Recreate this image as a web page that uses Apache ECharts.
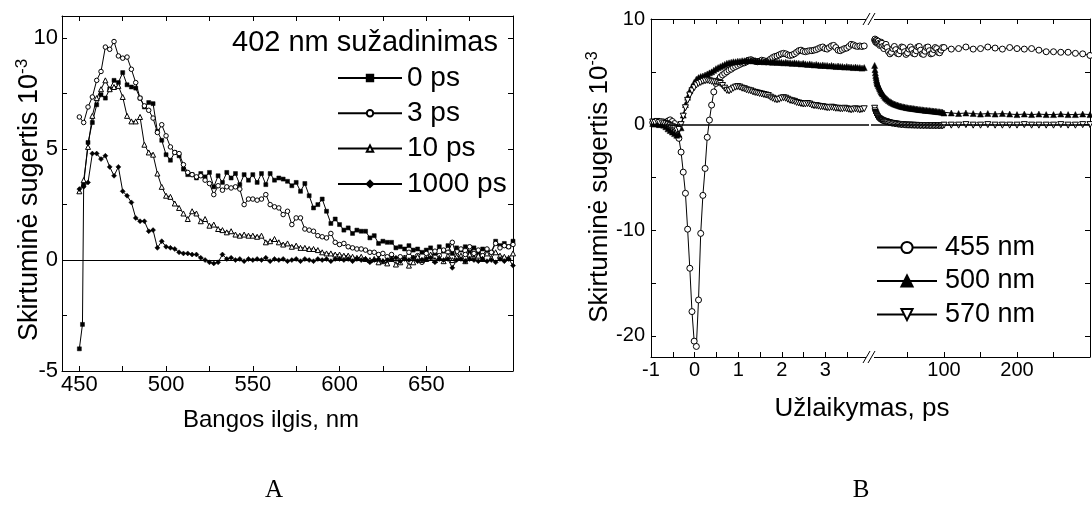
<!DOCTYPE html>
<html><head><meta charset="utf-8">
<script src="https://cdn.jsdelivr.net/npm/echarts@6/dist/echarts.min.js"></script>
<style>html,body{margin:0;padding:0;background:#fff}#c{width:1092px;height:508px}</style>
</head><body><div id="c"></div>
<script>
// ---------- Panel A data ----------
const wavelength = [
 450,452.5,455,457.5,460,462.5,465,467.5,470,472.5,
 475,477.5,480,482.5,485,487.5,490,492.5,495,497.5,
 500,502.5,505,507.5,510,512.5,515,517.5,520,522.5,
 525,527.5,530,532.5,535,537.5,540,542.5,545,547.5,
 550,552.5,555,557.5,560,562.5,565,567.5,570,572.5,
 575,577.5,580,582.5,585,587.5,590,592.5,595,597.5,
 600,602.5,605,607.5,610,612.5,615,617.5,620,622.5,
 625,627.5,630,632.5,635,637.5,640,642.5,645,647.5,
 650,652.5,655,657.5,660,662.5,665,667.5,670,672.5,
 675,677.5,680,682.5,685,687.5,690,692.5,695,697.5,
 700];
const risePoint0ps = [451.8, -2.9];
const abs0ps = [
 -4.0,3.4,5.3,6.2,7.0,7.45,7.3,7.7,8.1,8.0,
 8.45,7.9,7.8,7.75,7.3,6.9,7.1,7.05,5.8,5.4,
 4.75,4.5,4.85,4.7,4.1,3.85,3.85,3.7,3.9,3.75,
 3.95,3.3,3.8,3.5,3.95,3.7,3.9,3.4,3.85,3.6,
 3.85,3.5,3.9,3.4,3.9,3.6,3.7,3.65,3.55,3.35,
 3.5,3.1,3.45,2.9,2.35,2.5,2.75,2.2,1.65,1.85,
 1.6,1.35,1.45,1.2,1.35,1.3,1.3,1.0,1.1,0.75,
 0.85,0.8,0.8,0.55,0.6,0.5,0.65,0.45,0.5,0.35,
 0.45,0.55,0.3,0.6,0.4,0.65,0.3,0.55,0.45,0.6,
 0.35,0.55,0.3,0.5,0.45,0.35,0.85,0.65,0.75,0.6,
 0.85];
const abs3ps = [
 6.45,6.2,6.9,7.35,8.1,8.5,9.6,9.5,9.85,9.2,
 9.1,9.15,8.6,8.0,7.3,6.95,6.75,6.4,5.75,6.1,
 5.6,5.1,4.85,4.8,4.3,3.95,3.85,3.75,3.8,3.6,
 3.45,2.95,3.35,3.15,3.3,3.25,3.3,3.2,2.5,2.75,
 2.75,2.7,2.75,2.95,2.5,2.4,2.35,2.05,2.2,1.6,
 1.9,1.9,1.4,1.35,1.3,1.1,1.05,1.0,1.2,0.8,
 0.7,0.75,0.6,0.55,0.5,0.5,0.45,0.35,0.35,0.25,
 0.3,0.15,0.25,0.05,0.15,0.1,0.35,0.1,0.2,-0.1,
 0.3,0.15,0.4,0.2,0.45,0.35,0.8,0.2,0.5,0.25,
 0.6,0.3,0.45,0.2,0.5,0.35,0.75,0.55,0.65,0.6,
 0.7];
const abs10ps = [
 3.1,3.6,5.1,6.5,7.3,7.7,8.1,7.7,7.8,7.85,
 7.35,6.5,6.25,6.25,6.45,5.2,4.85,4.75,3.9,3.3,
 2.9,2.85,2.55,2.35,2.1,1.85,2.2,2.1,1.75,1.85,
 1.55,1.6,1.4,1.35,1.25,1.3,1.15,1.1,1.15,1.1,
 1.1,1.05,1.1,0.8,0.85,0.95,0.8,0.7,0.75,0.6,
 0.65,0.55,0.55,0.5,0.5,0.45,0.35,0.3,0.3,0.25,
 0.25,0.2,0.2,0.15,0.1,0.15,0.05,0.0,0.05,-0.1,
 -0.05,-0.15,0.05,-0.2,-0.1,0.1,-0.25,-0.1,0.15,0.0,
 0.05,0.25,0.0,0.1,-0.05,0.2,0.0,0.15,0.2,-0.05,
 0.25,0.1,0.2,0.05,0.3,0.1,0.35,0.2,0.15,0.1,
 0.3];
const abs1000ps = [
 3.2,3.3,3.5,4.8,4.8,4.55,4.7,4.2,3.8,4.2,
 3.1,2.9,2.6,1.9,1.75,1.75,1.3,1.35,0.55,0.85,
 0.6,0.55,0.5,0.35,0.3,0.3,0.25,0.25,0.1,0.0,
 -0.1,-0.15,-0.1,0.25,0.05,0.1,0.0,0.05,-0.05,0.05,
 0.0,0.05,0.0,0.1,-0.05,0.05,0.0,0.05,-0.05,0.0,
 0.05,-0.05,0.05,0.0,-0.05,0.05,0.0,0.05,-0.05,0.05,
 0.05,0.0,0.05,-0.05,0.05,0.0,0.05,-0.1,0.0,0.05,
 -0.05,0.0,0.05,0.1,-0.05,0.05,0.0,0.1,-0.05,0.0,
 0.05,0.1,-0.1,0.05,0.0,0.05,-0.35,0.0,0.05,-0.05,
 0.05,0.0,-0.05,0.05,-0.05,0.0,-0.1,0.05,-0.05,0.05,
 -0.25];
const wlTickValues = [450,475,500,525,550,575,600,625,650,675,700];
const wlLabelValues = [450,500,550,600,650];
const absATickValues = [-5,-2.5,0,2.5,5,7.5,10];
const absALabelValues = [-5,0,5,10];

// ---------- Panel B data ----------
const delayShort = [
 -0.96,-0.91,-0.86,-0.81,-0.76,-0.71,-0.66,-0.61,-0.56,-0.51,
 -0.46,-0.41,-0.36,-0.31,-0.26,-0.21,-0.16,-0.11,-0.06,-0.01,
 0.04,0.09,0.14,0.19,0.24,0.29,0.34,0.39,0.44,0.49,
 0.54,0.59,0.64,0.69,0.74,0.79,0.84,0.89,0.94,0.99,
 1.04,1.09,1.14,1.19,1.24,1.29,1.34,1.39,1.44,1.49,
 1.54,1.59,1.64,1.69,1.74,1.79,1.84,1.89,1.94,1.99,
 2.04,2.09,2.14,2.19,2.24,2.29,2.34,2.39,2.44,2.49,
 2.54,2.59,2.64,2.69,2.74,2.79,2.84,2.89,2.94,2.99,
 3.04,3.09,3.14,3.19,3.24,3.29,3.34,3.39,3.44,3.49,
 3.54,3.59,3.64,3.69,3.74,3.79,3.84,3.89];
const k455Short = [
 0.2,0.25,0.2,0.15,0.25,0.2,0.1,0.35,0.45,0.3,
 0.1,-0.3,-1.3,-2.6,-4.5,-6.5,-9.9,-13.6,-17.7,-20.5,
 -21.0,-16.6,-10.3,-6.7,-4.15,-1.2,0.43,1.85,3.1,3.9,
 4.2,4.5,4.7,4.85,5.0,5.15,5.25,5.4,5.5,5.6,
 5.7,5.8,5.85,5.95,6.1,6.15,6.05,6.0,5.95,6.0,
 6.1,6.05,5.95,6.05,6.2,6.35,6.45,6.5,6.6,6.7,
 6.75,6.7,6.6,6.55,6.6,6.7,6.85,7.0,7.05,6.95,
 6.9,6.95,7.0,7.0,7.05,7.1,7.2,7.3,7.35,7.2,
 7.15,7.3,7.45,7.5,7.3,7.05,7.0,7.1,7.2,7.25,
 7.4,7.6,7.55,7.45,7.4,7.45,7.4,7.45];
const k500Short = [
 0.1,0.05,0.1,0.0,0.05,-0.05,-0.2,-0.4,-0.55,-0.7,
 -0.85,-1.0,-0.9,-0.3,0.9,1.9,2.6,3.2,3.6,4.0,
 4.3,4.45,4.55,4.6,4.7,4.8,4.9,5.0,5.15,5.3,
 5.4,5.5,5.6,5.7,5.8,5.85,5.9,5.95,5.95,6.0,
 6.0,6.05,6.05,6.1,6.05,6.1,6.05,6.05,6.0,6.0,
 6.0,5.95,6.0,5.95,5.95,5.9,5.95,5.9,5.9,5.9,
 5.85,5.9,5.85,5.85,5.8,5.85,5.8,5.8,5.75,5.8,
 5.75,5.7,5.75,5.7,5.65,5.7,5.65,5.6,5.65,5.6,
 5.6,5.55,5.6,5.55,5.5,5.55,5.5,5.5,5.45,5.5,
 5.45,5.45,5.4,5.45,5.4,5.4,5.35,5.4];
const k570Short = [
 0.25,0.2,0.3,0.2,0.25,0.15,0.1,0.0,-0.1,-0.2,
 -0.35,-0.5,-0.45,0.0,0.8,1.6,2.3,2.8,3.2,3.5,
 3.75,3.9,4.0,4.1,4.15,4.2,4.15,4.1,4.05,4.05,
 4.0,3.9,3.7,3.45,3.25,3.2,3.3,3.45,3.55,3.6,
 3.55,3.45,3.4,3.3,3.25,3.2,3.1,3.05,3.0,2.95,
 2.9,2.85,2.8,2.75,2.6,2.5,2.4,2.35,2.4,2.5,
 2.55,2.5,2.4,2.3,2.25,2.2,2.1,2.05,2.0,1.95,
 1.95,2.0,1.95,1.85,1.8,1.8,1.75,1.7,1.7,1.65,
 1.6,1.6,1.65,1.6,1.55,1.55,1.5,1.5,1.55,1.5,
 1.45,1.4,1.45,1.5,1.45,1.4,1.45,1.5];
const delayLong = [
 5,5.5,6,6.5,7,7.5,8,8.5,9,10,
 11,12,13,14,15,16,17.5,19,20.5,22,
 24,26,28,30,32,34,36,38,40,42,
 44,46,48,50,52,54,56,58,60,62,
 64,66,68,70,72,74,76,78,80,82,
 84,86,88,90,92,94,96,98,
 100,110,120,130,140,150,160,170,180,190,
 200,210,220,230,240,250,260,270,280,290,
 300];
const k455Long = [
 8.0,8.1,7.9,7.8,7.95,8.0,7.85,7.7,7.75,7.9,
 7.7,7.5,7.6,7.8,7.7,7.4,7.2,7.45,7.6,7.3,
 6.9,6.7,6.85,7.2,7.4,7.1,6.75,6.7,7.0,7.35,
 7.3,6.9,6.65,6.8,7.15,7.35,7.1,6.75,6.7,7.0,
 7.35,7.4,7.05,6.7,6.65,6.95,7.3,7.35,7.0,6.7,
 6.75,7.1,7.3,7.2,6.85,6.8,7.05,7.3,
 7.3,7.15,7.2,7.35,7.15,7.2,7.35,7.25,7.15,7.3,
 7.2,7.15,7.2,7.05,6.9,6.9,6.85,6.85,6.75,6.7,
 6.55];
const k500Long = [
 5.6,5.2,4.9,4.65,4.45,4.25,4.1,3.95,3.85,3.7,
 3.55,3.4,3.25,3.1,3.0,2.9,2.75,2.6,2.5,2.4,
 2.28,2.18,2.1,2.02,1.95,1.9,1.85,1.8,1.76,1.72,
 1.69,1.66,1.63,1.6,1.58,1.56,1.54,1.52,1.5,1.48,
 1.46,1.44,1.42,1.41,1.39,1.37,1.35,1.34,1.33,1.31,
 1.3,1.28,1.27,1.25,1.23,1.22,1.2,1.18,
 1.1,1.1,1.05,1.1,1.05,1.0,1.05,1.0,1.05,1.0,
 0.95,1.0,0.95,1.0,0.95,0.95,1.0,0.95,0.95,1.0,
 0.95];
const k570Long = [
 1.55,1.3,1.15,1.05,0.95,0.88,0.8,0.75,0.7,0.62,
 0.56,0.52,0.47,0.43,0.4,0.37,0.33,0.3,0.27,0.24,
 0.2,0.16,0.13,0.1,0.08,0.06,0.04,0.02,0.0,-0.02,
 -0.02,-0.04,-0.05,-0.05,-0.06,-0.05,-0.07,-0.06,-0.08,-0.07,
 -0.09,-0.08,-0.1,-0.09,-0.1,-0.1,-0.09,-0.11,-0.1,-0.12,
 -0.1,-0.11,-0.12,-0.1,-0.12,-0.11,-0.12,-0.11,
 -0.05,-0.05,-0.05,0.0,-0.05,-0.05,0.0,-0.05,-0.05,-0.05,
 -0.05,0.0,-0.05,-0.05,-0.05,-0.05,0.0,-0.05,-0.05,0.0,
 0.0];
const shortTickValues = [-1,-0.5,0,0.5,1,1.5,2,2.5,3,3.5];
const shortLabelValues = [-1,0,1,2,3];
const longTickValues = [50,100,150,200,250];
const longLabelValues = [100,200];
const absBTickValues = [-20,-15,-10,-5,0,5,10];
const absBLabelValues = [-20,-10,0,10];

// ---------- chart ----------
const FONT = '"Liberation Sans", Arial, Helvetica, sans-serif';
const SERIF = '"Liberation Serif", "Times New Roman", serif';
const pairs = (xs, ys) => xs.map((x, i) => [x, ys[i]]);

function axis(o) {
  return {
    type: 'value', gridIndex: o.grid, position: o.pos, min: o.min, max: o.max,
    splitLine: { show: false },
    axisLine: { show: true, onZero: false, lineStyle: { color: '#000', width: 1 } },
    axisTick: { show: true, inside: true, length: 5, customValues: o.ticks, lineStyle: { color: '#000', width: 1 } },
    axisLabel: o.labels ? { show: true, customValues: o.labels, fontSize: o.fs, fontFamily: FONT, color: '#000', margin: o.margin } : { show: false }
  };
}

function lineSeries(name, xi, yi, data, symbol, size, filled, extra) {
  return Object.assign({
    type: 'line', name, xAxisIndex: xi, yAxisIndex: yi, data,
    symbol, symbolSize: size, showAllSymbol: true, animation: false,
    lineStyle: { color: '#000', width: 1 },
    itemStyle: filled ? { color: '#000', borderColor: '#000', borderWidth: 0.5 } : { color: '#fff', borderColor: '#000', borderWidth: 1 },
    emphasis: { disabled: true }, z: 3
  }, extra || {});
}
const zeroLine = (w) => ({
  silent: true, symbol: ['none', 'none'], animation: false,
  label: { show: false }, lineStyle: { color: '#000', width: w, type: 'solid' },
  data: [{ yAxis: 0 }]
});

const data0ps = [[wavelength[0], abs0ps[0]], risePoint0ps].concat(pairs(wavelength.slice(1), abs0ps.slice(1)));

const option = {
  animation: false,
  backgroundColor: '#fff',
  grid: [
    { left: 62, top: 16, width: 451, height: 355, containLabel: false, outerBoundsMode: 'none' },
    { left: 651, top: 19, width: 218, height: 338, containLabel: false, outerBoundsMode: 'none' },
    { left: 871, top: 19, width: 219, height: 338, containLabel: false, outerBoundsMode: 'none' }
  ],
  xAxis: [
    axis({ grid: 0, pos: 'bottom', min: 440, max: 700, ticks: wlTickValues, labels: wlLabelValues, fs: 22, margin: 3 }),
    axis({ grid: 0, pos: 'top', min: 440, max: 700, ticks: wlTickValues }),
    axis({ grid: 1, pos: 'bottom', min: -1, max: 4, ticks: shortTickValues, labels: shortLabelValues, fs: 20, margin: 3 }),
    axis({ grid: 1, pos: 'top', min: -1, max: 4, ticks: shortTickValues }),
    axis({ grid: 2, pos: 'bottom', min: 0, max: 300, ticks: longTickValues, labels: longLabelValues, fs: 20, margin: 3 }),
    axis({ grid: 2, pos: 'top', min: 0, max: 300, ticks: longTickValues })
  ],
  yAxis: [
    axis({ grid: 0, pos: 'left', min: -5, max: 11, ticks: absATickValues, labels: absALabelValues, fs: 22, margin: 4 }),
    axis({ grid: 0, pos: 'right', min: -5, max: 11, ticks: absATickValues }),
    axis({ grid: 1, pos: 'left', min: -22, max: 10, ticks: absBTickValues, labels: absBLabelValues, fs: 20, margin: 6 }),
    axis({ grid: 2, pos: 'right', min: -22, max: 10, ticks: absBTickValues })
  ],
  legend: [
    { data: ['0 ps', '3 ps', '10 ps', '1000 ps'], orient: 'vertical', left: 337, top: 64, padding: 0,
      itemWidth: 64, itemHeight: 8, itemGap: 7.3, selectedMode: false,
      textStyle: { fontSize: 28, fontFamily: FONT, color: '#000' } },
    { data: ['455 nm', '500 nm', '570 nm'], orient: 'vertical', left: 876, top: 234, padding: 0,
      itemWidth: 60, itemHeight: 14, itemGap: 6.5, selectedMode: false,
      textStyle: { fontSize: 27, fontFamily: FONT, color: '#000', padding: [0, 0, 0, 3] } }
  ],
  series: [
    lineSeries('0 ps', 0, 0, data0ps, 'rect', 4, true, { markLine: zeroLine(1.2) }),
    lineSeries('3 ps', 0, 0, pairs(wavelength, abs3ps), 'circle', 4.5, false),
    lineSeries('10 ps', 0, 0, pairs(wavelength, abs10ps), 'triangle', 5, false),
    lineSeries('1000 ps', 0, 0, pairs(wavelength, abs1000ps), 'diamond', 5, true),
    lineSeries('455 nm', 2, 2, pairs(delayShort, k455Short), 'circle', 6, false, { markLine: zeroLine(1.6) }),
    lineSeries('500 nm', 2, 2, pairs(delayShort, k500Short), 'triangle', 6, true),
    lineSeries('570 nm', 2, 2, pairs(delayShort, k570Short), 'triangle', 6, false, { symbolRotate: 180 }),
    lineSeries('455 nm', 4, 3, pairs(delayLong, k455Long), 'circle', 6, false, { markLine: zeroLine(1.6) }),
    lineSeries('500 nm', 4, 3, pairs(delayLong, k500Long), 'triangle', 6, true),
    lineSeries('570 nm', 4, 3, pairs(delayLong, k570Long), 'triangle', 6, false, { symbolRotate: 180 })
  ],
  graphic: [
    { type: 'text', x: 232, y: 43, style: { text: '402 nm sužadinimas', fontSize: 29, fontFamily: FONT, fill: '#000', verticalAlign: 'middle' } },
    { type: 'text', x: 30, y: 200, rotation: Math.PI / 2,
      style: { text: '{m|Skirtuminė sugertis 10}{s|-3}', align: 'center', verticalAlign: 'middle',
        rich: { m: { fontSize: 27, fontFamily: FONT, fill: '#000', lineHeight: 32 },
                s: { fontSize: 17, fontFamily: FONT, fill: '#000', lineHeight: 32, verticalAlign: 'top' } } } },
    { type: 'text', x: 600, y: 187, rotation: Math.PI / 2,
      style: { text: '{m|Skirtuminė sugertis 10}{s|-3}', align: 'center', verticalAlign: 'middle',
        rich: { m: { fontSize: 26, fontFamily: FONT, fill: '#000', lineHeight: 31 },
                s: { fontSize: 16, fontFamily: FONT, fill: '#000', lineHeight: 31, verticalAlign: 'top' } } } },
    { type: 'text', x: 271, y: 420, style: { text: 'Bangos ilgis, nm', fontSize: 24, fontFamily: FONT, fill: '#000', align: 'center', verticalAlign: 'middle' } },
    { type: 'text', x: 862, y: 409, style: { text: 'Užlaikymas, ps', fontSize: 26, fontFamily: FONT, fill: '#000', align: 'center', verticalAlign: 'middle' } },
    { type: 'text', x: 274, y: 490, style: { text: 'A', fontSize: 25, fontFamily: SERIF, fill: '#000', align: 'center', verticalAlign: 'middle' } },
    { type: 'text', x: 861, y: 490, style: { text: 'B', fontSize: 25, fontFamily: SERIF, fill: '#000', align: 'center', verticalAlign: 'middle' } },
    { type: 'rect', shape: { x: 866, y: 16, width: 8, height: 6 }, style: { fill: '#fff' }, z: 100 },
    { type: 'rect', shape: { x: 866, y: 354, width: 8, height: 6 }, style: { fill: '#fff' }, z: 100 },
    { type: 'line', shape: { x1: 863, y1: 25, x2: 870, y2: 13 }, style: { stroke: '#000', lineWidth: 1 }, z: 101 },
    { type: 'line', shape: { x1: 868, y1: 25, x2: 875, y2: 13 }, style: { stroke: '#000', lineWidth: 1 }, z: 101 },
    { type: 'line', shape: { x1: 863, y1: 363, x2: 870, y2: 351 }, style: { stroke: '#000', lineWidth: 1 }, z: 101 },
    { type: 'line', shape: { x1: 868, y1: 363, x2: 875, y2: 351 }, style: { stroke: '#000', lineWidth: 1 }, z: 101 }
  ]
};
const chart = echarts.init(document.getElementById('c'), null, { renderer: 'canvas' });
chart.setOption(option);
</script></body></html>
